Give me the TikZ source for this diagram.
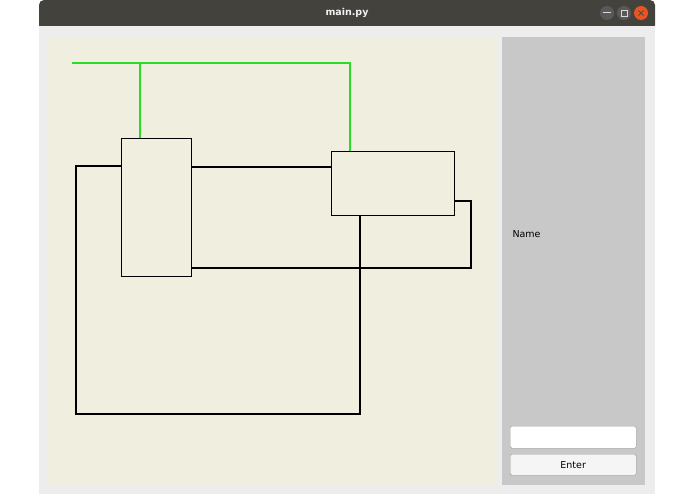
\documentclass[tikz,border=0pt]{standalone}
\usepackage{fontspec}
\setmainfont{DejaVu Sans}
\begin{document}
\begin{tikzpicture}[x=1pt,y=-1pt,
  wire/.style={line width=1.3pt,black},
  gwire/.style={line width=1.3pt,color={rgb,255:red,40;green,220;blue,40}},
  box/.style={draw,line width=1.3pt,inner sep=0pt,anchor=north west},
  lbl/.style={font=\fontsize{9.5}{11}\selectfont}]
\useasboundingbox (0,0) rectangle (695,494);
\fill[white] (0,0) rectangle (695,494);
% window
\fill[color={rgb,255:red,237;green,237;blue,237}] (39,26) rectangle (655,494);
\fill[color={rgb,255:red,68;green,66;blue,61}, rounded corners=5pt] (39,0) rectangle (655,30);
\fill[color={rgb,255:red,237;green,237;blue,237}] (39,26) rectangle (655,32);
\node[text=white!90!gray,font=\bfseries\fontsize{9.5}{11}\selectfont] (title) at (347,13) {main.py};
\fill[gray!70!black] (607,13) circle (7);
\fill[gray!70!black] (624,13) circle (7);
\fill[color={rgb,255:red,233;green,84;blue,32}] (641,13) circle (7);
\draw[gray!30,line width=1pt] (603,13)--(611,13);
\draw[gray!30,line width=0.8pt] (621,10) rectangle (627,16);
\draw[black!70,line width=0.8pt] (638.5,10.5)--(643.5,15.5) (638.5,15.5)--(643.5,10.5);
% canvas
\fill[color={rgb,255:red,240;green,238;blue,222}] (48,37) rectangle (497,485);
% panel
\fill[color={rgb,255:red,200;green,200;blue,200}] (502,37) rectangle (645,485);
\node[lbl,anchor=west] (name) at (509,234) {Name};
\node[draw=gray!80,fill=white,rounded corners=1.5pt,minimum width=126pt,minimum height=22pt,anchor=north west,inner sep=0pt] (entry) at (510,426) {};
\node[draw=gray!80,fill=gray!8,rounded corners=1.5pt,minimum width=126pt,minimum height=21pt,anchor=north west,inner sep=0pt,lbl] (enter) at (510,454) {Enter};
% boxes
\node[box,minimum width=70pt,minimum height=138pt] (b1) at (121,138) {};
\node[box,minimum width=123pt,minimum height=64pt] (b2) at (331,151) {};
\coordinate (g0) at (72,63);
\coordinate (g1) at (140,63);
\coordinate (g2) at (350,63);
\draw[gwire] (g0)--(g2)--(350,151);
\draw[gwire] (g1)--(140,138);
\coordinate (c1) at (76,166);
\draw[wire] (121,166)--(c1)--(76,414)--(360,414)--(360,215);
\draw[wire] (191,167)--(331,167);
\draw[wire] (191,268)--(471,268)--(471,201)--(454,201);
\end{tikzpicture}
\end{document}
